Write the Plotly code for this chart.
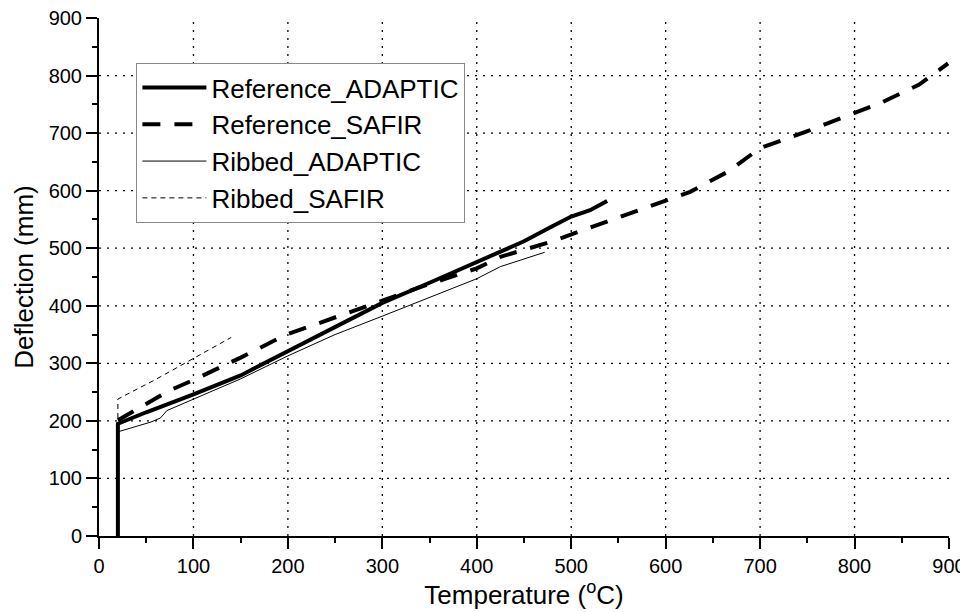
import plotly.graph_objects as go

ref_adaptic_x = [20, 20, 50, 100, 150, 200, 250, 300, 350, 400, 450, 480, 500, 520, 538]
ref_adaptic_y = [0, 195, 215, 246, 279, 321, 364, 405, 440, 476, 512, 538, 555, 566, 582]

ref_safir_x = [20, 75, 100, 150, 197, 250, 300, 350, 400, 425, 478, 518, 587, 626, 666, 700, 748, 788, 827, 868, 899]
ref_safir_y = [201, 253, 271, 310, 349, 380, 408, 438, 465, 485, 511, 535, 575, 598, 633, 674, 702, 728, 752, 784, 821]

rib_adaptic_x = [20, 20, 55, 65, 72, 100, 150, 200, 250, 300, 350, 400, 425, 450, 472]
rib_adaptic_y = [0, 181, 198, 205, 218, 238, 273, 313, 350, 382, 415, 447, 468, 481, 493]

rib_safir_x = [20, 20, 60, 100, 140]
rib_safir_y = [205, 238, 272, 308, 345]

grid_vals = [100, 200, 300, 400, 500, 600, 700, 800]

FONT = "Liberation Sans, Arial, sans-serif"

fig = go.Figure()

# dotted grid (interior lines only, as in the reference)
for v in grid_vals:
    fig.add_shape(type="line", xref="x", yref="paper", x0=v, x1=v, y0=0, y1=1,
                  line=dict(color="black", width=1.3, dash="2px,6px"), layer="below")
    fig.add_shape(type="line", xref="paper", yref="y", x0=0, x1=1, y0=v, y1=v,
                  line=dict(color="black", width=1.3, dash="2px,6px"), layer="below")

fig.add_trace(go.Scatter(x=ref_adaptic_x, y=ref_adaptic_y, mode="lines", name="Reference_ADAPTIC",
                         line=dict(color="black", width=4)))
fig.add_trace(go.Scatter(x=ref_safir_x, y=ref_safir_y, mode="lines", name="Reference_SAFIR",
                         line=dict(color="black", width=4, dash="18px,14px")))
fig.add_trace(go.Scatter(x=rib_adaptic_x, y=rib_adaptic_y, mode="lines", name="Ribbed_ADAPTIC",
                         line=dict(color="black", width=1)))
fig.add_trace(go.Scatter(x=rib_safir_x, y=rib_safir_y, mode="lines", name="Ribbed_SAFIR",
                         line=dict(color="black", width=1, dash="5px,4px")))

axis_common = dict(
    range=[0, 900], dtick=100, showline=True, linecolor="black", linewidth=2,
    ticks="outside", ticklen=11, tickwidth=2, tickcolor="black",
    showgrid=False, automargin=False, ticklabeloverflow="allow",
    zeroline=False, tickfont=dict(family=FONT, size=20, color="black"),
    minor=dict(dtick=50, ticks="outside", ticklen=5, tickwidth=2, tickcolor="black", showgrid=False),
)

# the page body adds an 8px offset, so the figure is 960x604 with reduced margins
fig.update_layout(
    width=960, height=604,
    margin=dict(l=91, r=19, t=10, b=76),
    paper_bgcolor="white", plot_bgcolor="white",
    font=dict(family=FONT, color="black"),
    xaxis=dict(**axis_common, title=dict(text="Temperature (<sup>o</sup>C)",
               font=dict(size=26), standoff=0)),
    yaxis=dict(**axis_common, title=dict(text="Deflection (mm)", font=dict(size=26), standoff=8)),
    legend=dict(x=0.044, y=0.913, xanchor="left", yanchor="top",
                bgcolor="white", bordercolor="#888", borderwidth=1,
                font=dict(size=26, family=FONT),
                itemwidth=64, tracegroupgap=0),
    showlegend=True,
)

fig.write_html("out.html")
